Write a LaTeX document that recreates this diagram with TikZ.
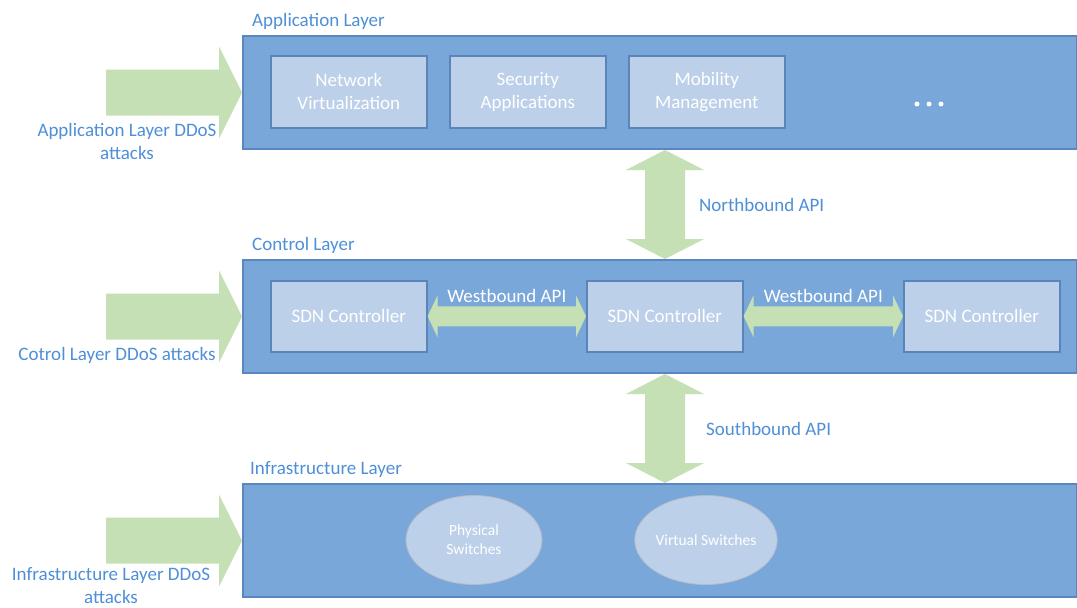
\documentclass[tikz,border=0pt]{standalone}
\usepackage{fontspec}
\setmainfont{Carlito}
\usetikzlibrary{calc,shapes.geometric}
\definecolor{layerfill}{HTML}{7AA7DA}
\definecolor{layerline}{HTML}{5A87BF}
\definecolor{boxfill}{HTML}{BDD0E9}
\definecolor{boxline}{HTML}{5B84B8}
\definecolor{apigreen}{HTML}{C5E0B4}
\definecolor{labelblue}{HTML}{4E8FD8}
\definecolor{ovalline}{HTML}{B5BCC6}

% vertical double arrow between two points (top, bottom)
\newcommand\vbiarrow[2]{%
  \fill[apigreen] (#1) -- ($(#1)+(39,20)$) -- ($(#1)+(20,20)$) -- ($(#2)+(20,-20)$)
    -- ($(#2)+(39,-20)$) -- (#2) -- ($(#2)+(-39,-20)$) -- ($(#2)+(-20,-20)$)
    -- ($(#1)+(-20,20)$) -- ($(#1)+(-39,20)$) -- cycle;}
% horizontal double arrow between two points (left, right)
\newcommand\hbiarrow[2]{%
  \fill[apigreen] (#1) -- ($(#1)+(10,-21)$) -- ($(#1)+(10,-10)$) -- ($(#2)+(-10,-10)$)
    -- ($(#2)+(-10,-21)$) -- (#2) -- ($(#2)+(-10,21)$) -- ($(#2)+(-10,10)$)
    -- ($(#1)+(10,10)$) -- ($(#1)+(10,21)$) -- cycle;}
% block arrow pointing right, tip at the given point
\newcommand\attackarrow[1]{%
  \fill[apigreen] ($(#1)+(-136,-23)$) -- ($(#1)+(-23,-23)$) -- ($(#1)+(-23,-46)$)
    -- (#1) -- ($(#1)+(-23,46)$) -- ($(#1)+(-23,23)$) -- ($(#1)+(-136,23)$) -- cycle;}

\begin{document}
\begin{tikzpicture}[x=1pt,y=-1pt,
  every node/.style={inner sep=0pt, font=\fontsize{19}{23}\selectfont},
  layer/.style={draw=layerline, line width=2pt, fill=layerfill, anchor=north west,
    minimum width=834pt, minimum height=113pt},
  appbox/.style={draw=boxline, line width=1.6pt, fill=boxfill, text=white,
    align=center, anchor=north west, minimum width=156pt, minimum height=72pt},
  oval/.style={ellipse, draw=ovalline, line width=0.8pt, fill=boxfill, text=white,
    align=center, minimum width=136pt, minimum height=89pt,
    font=\fontsize{15.5}{19}\selectfont},
  lbl/.style={text=labelblue, align=center},
  dot/.style={circle, fill=white, minimum size=5pt}]
\useasboundingbox (0,0) rectangle (1077,608);
\fill[white] (0,0) rectangle (1077,608);

% layers
\node[layer] (app) at (242,35) {};
\node[layer] (ctrl) at (242,259) {};
\node[layer] (infra) at (242,483) {};
\node[lbl, anchor=base west] (applbl) at (252,26) {Application Layer};
\node[lbl, anchor=base west] (ctrllbl) at (252,250) {Control Layer};
\node[lbl, anchor=base west] (infralbl) at (250,474) {Infrastructure Layer};

% application layer contents
\node[appbox] (netvirt) at (270,55) {Network\\Virtualization};
\node[appbox] (secapp) at (449,55) {Security\\Applications};
\node[appbox] (mobmgmt) at (628,55) {Mobility\\Management};
\node[dot] (d1) at (917,104) {};
\node[dot] (d2) at (929,104) {};
\node[dot] (d3) at (941,104) {};

% control layer contents
\node[appbox, minimum height=71pt] (sdn1) at (270,280) {SDN Controller};
\node[appbox, minimum height=71pt] (sdn2) at (586,280) {SDN Controller};
\node[appbox, minimum height=71pt] (sdn3) at (903,280) {SDN Controller};

% infrastructure layer contents
\node[oval] (phys) at (474,540) {Physical\\Switches};
\node[oval] (virt) at (706,540) {Virtual Switches};

% northbound / southbound interfaces
\coordinate (nbtop) at ([xshift=5pt]app.south);
\coordinate (nbbot) at ([xshift=5pt]ctrl.north);
\coordinate (sbtop) at ([xshift=5pt]ctrl.south);
\coordinate (sbbot) at ([xshift=5pt]infra.north);
\vbiarrow{nbtop}{nbbot}
\vbiarrow{sbtop}{sbbot}
\node[lbl, anchor=west] (nblbl) at ($(nbtop)!0.5!(nbbot)+(34,0)$) {Northbound API};
\node[lbl, anchor=west] (sblbl) at ($(sbtop)!0.5!(sbbot)+(41,0)$) {Southbound API};

% westbound interfaces between controllers
\hbiarrow{sdn1.east}{sdn2.west}
\hbiarrow{sdn2.east}{sdn3.west}
\node[text=white] (wb1) at ($(sdn1.east)!0.5!(sdn2.west)+(0,-20)$) {Westbound API};
\node[text=white] (wb2) at ($(sdn2.east)!0.5!(sdn3.west)+(0,-20)$) {Westbound API};

% attacks on each layer
\attackarrow{app.west}
\attackarrow{ctrl.west}
\attackarrow{infra.west}
\node[lbl] (appatk) at (127,141) {Application Layer DDoS\\attacks};
\node[lbl] (ctrlatk) at (117,355) {Cotrol Layer DDoS attacks};
\node[lbl] (infraatk) at (111,586) {Infrastructure Layer DDoS\\attacks};
\end{tikzpicture}
\end{document}
